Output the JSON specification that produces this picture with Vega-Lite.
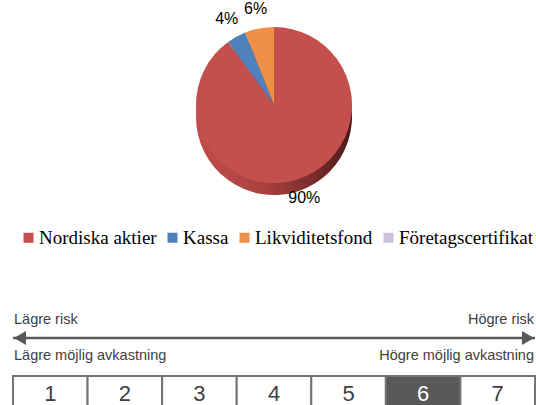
{
  "$schema": "https://vega.github.io/schema/vega-lite/v6.json",
  "background": "white",
  "padding": {"left": 11, "right": 3, "top": 0, "bottom": 0},
  "config": {"view": {"stroke": null}, "font": "Liberation Sans"},
  "spacing": 101,
  "vconcat": [
    {
      "width": 522,
      "height": 210,
      "data": {"values": [
        {"tillgång": "Nordiska aktier", "andel": 0.90},
        {"tillgång": "Kassa", "andel": 0.04},
        {"tillgång": "Likviditetsfond", "andel": 0.06},
        {"tillgång": "Företagscertifikat", "andel": 0.0}
      ]},
      "transform": [{"window": [{"op": "row_number", "as": "ordning"}]}],
      "encoding": {
        "theta": {"field": "andel", "type": "quantitative", "stack": true},
        "order": {"field": "ordning", "type": "quantitative"}
      },
      "layer": [
        {
          "mark": {
            "type": "arc", "outerRadius": 78, "yOffset": 12,
            "fill": {"gradient": "linear", "x1": 0, "y1": 0, "x2": 1, "y2": 0,
              "stops": [
                {"offset": 0, "color": "#C24E4B"},
                {"offset": 0.45, "color": "#A8403E"},
                {"offset": 0.75, "color": "#7A2C2B"},
                {"offset": 1, "color": "#4E1A1A"}
              ]}
          },
          "encoding": {}
        },
        {
          "mark": {"type": "arc", "outerRadius": 78},
          "encoding": {
            "color": {
              "field": "tillgång", "type": "nominal",
              "scale": {
                "domain": ["Nordiska aktier", "Kassa", "Likviditetsfond", "Företagscertifikat"],
                "range": ["#C4504D", "#4F81BD", "#EE9046", "#CCC1DA"]
              },
              "legend": {
                "orient": "none", "legendX": 6, "legendY": 228,
                "direction": "horizontal", "columns": 4, "title": null,
                "symbolType": "square", "symbolSize": 100, "symbolStrokeWidth": 0,
                "labelFont": "Liberation Serif", "labelFontSize": 19, "labelColor": "#000000",
                "labelOffset": 1, "columnPadding": 6, "labelLimit": 300
              }
            }
          }
        },
        {
          "transform": [{"filter": "datum.andel > 0"}],
          "mark": {"type": "text", "radius": 98, "fontSize": 16, "color": "#000000", "font": "Liberation Sans"},
          "encoding": {"text": {"field": "andel", "type": "quantitative", "format": ".0%"}}
        }
      ]
    },
    {
      "spacing": 10,
      "vconcat": [
        {
          "width": 522,
          "height": 54,
          "encoding": {
            "y": {"field": "rad", "type": "nominal",
              "scale": {"domain": ["risk", "pil", "avkastning"], "paddingInner": 0, "paddingOuter": 0},
              "axis": null}
          },
          "layer": [
            {
              "data": {"values": [{"rad": "pil"}]},
              "mark": {"type": "rule", "color": "#595959", "strokeWidth": 2.7},
              "encoding": {}
            },
            {
              "data": {"values": [{"rad": "pil", "kant": "vänster"}]},
              "mark": {"type": "point", "shape": "triangle-left", "filled": true, "size": 190, "color": "#595959", "opacity": 1, "xOffset": 7},
              "encoding": {
                "x": {"field": "kant", "type": "nominal",
                  "scale": {"type": "point", "domain": ["vänster", "höger"], "padding": 0}, "axis": null}
              }
            },
            {
              "data": {"values": [{"rad": "pil", "kant": "höger"}]},
              "mark": {"type": "point", "shape": "triangle-right", "filled": true, "size": 190, "color": "#595959", "opacity": 1, "xOffset": -7},
              "encoding": {
                "x": {"field": "kant", "type": "nominal",
                  "scale": {"type": "point", "domain": ["vänster", "höger"], "padding": 0}, "axis": null}
              }
            },
            {
              "data": {"values": [
                {"rad": "risk", "kant": "vänster", "etikett": "Lägre  risk"},
                {"rad": "avkastning", "kant": "vänster", "etikett": "Lägre möjlig avkastning"}
              ]},
              "mark": {"type": "text", "align": "left", "baseline": "middle", "fontSize": 14.5, "color": "#404040", "dx": 1},
              "encoding": {
                "x": {"field": "kant", "type": "nominal",
                  "scale": {"type": "point", "domain": ["vänster", "höger"], "padding": 0}, "axis": null},
                "text": {"field": "etikett", "type": "nominal"}
              }
            },
            {
              "data": {"values": [
                {"rad": "risk", "kant": "höger", "etikett": "Högre risk"},
                {"rad": "avkastning", "kant": "höger", "etikett": "Högre möjlig avkastning"}
              ]},
              "mark": {"type": "text", "align": "right", "baseline": "middle", "fontSize": 14.5, "color": "#404040", "dx": -1},
              "encoding": {
                "x": {"field": "kant", "type": "nominal",
                  "scale": {"type": "point", "domain": ["vänster", "höger"], "padding": 0}, "axis": null},
                "text": {"field": "etikett", "type": "nominal"}
              }
            }
          ]
        },
        {
          "width": 522,
          "height": 36,
          "data": {"values": [
            {"nivå": 1, "fonden": "nej"},
            {"nivå": 2, "fonden": "nej"},
            {"nivå": 3, "fonden": "nej"},
            {"nivå": 4, "fonden": "nej"},
            {"nivå": 5, "fonden": "nej"},
            {"nivå": 6, "fonden": "ja"},
            {"nivå": 7, "fonden": "nej"}
          ]},
          "encoding": {
            "x": {"field": "nivå", "type": "ordinal",
              "scale": {"domain": [1, 2, 3, 4, 5, 6, 7], "paddingInner": 0, "paddingOuter": 0}, "axis": null}
          },
          "layer": [
            {
              "mark": {"type": "rect", "stroke": "#737373", "strokeWidth": 2},
              "encoding": {
                "fill": {"field": "fonden", "type": "nominal",
                  "scale": {"domain": ["nej", "ja"], "range": ["#FFFFFF", "#595959"]}, "legend": null}
              }
            },
            {
              "mark": {"type": "text", "fontSize": 22, "baseline": "middle"},
              "encoding": {
                "text": {"field": "nivå", "type": "ordinal"},
                "color": {"field": "fonden", "type": "nominal",
                  "scale": {"domain": ["nej", "ja"], "range": ["#404040", "#FFFFFF"]}, "legend": null}
              }
            }
          ],
          "resolve": {"scale": {"color": "independent", "fill": "independent"}}
        }
      ]
    }
  ]
}
